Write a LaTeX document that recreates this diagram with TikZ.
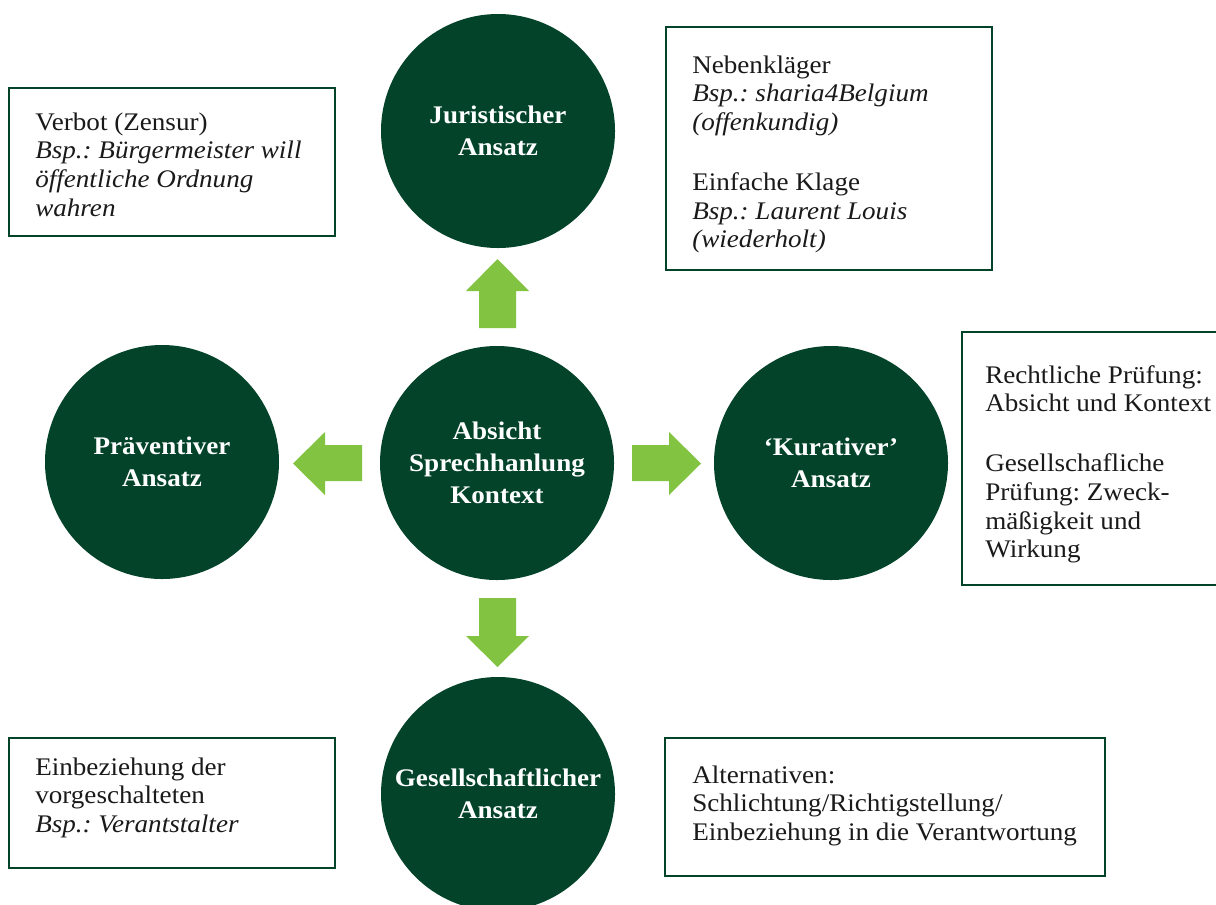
\documentclass[tikz,border=0pt]{standalone}
\usepackage{fontspec}
\setmainfont{Liberation Serif}[FakeStretch=1.07]
\definecolor{dkgreen}{HTML}{02432A}
\definecolor{ltgreen}{HTML}{82C341}
\definecolor{inkc}{HTML}{1A1A1A}
\newcommand{\lines}[1]{\begin{tabular}[t]{@{}l@{}}#1\end{tabular}}
\frenchspacing
\begin{document}
\begin{tikzpicture}[x=0.75pt,y=-0.75pt,
  circ/.style={circle, fill=dkgreen, minimum size=175.5pt, inner sep=0pt, text=white,
    font=\fontsize{19}{24}\selectfont\bfseries, align=center},
  frame/.style={draw=dkgreen, line width=1.6pt, fill=white, inner sep=0pt},
  txt/.style={anchor=base west, inner sep=0pt, text=inkc,
    font=\fontsize{19}{21.5}\selectfont},
  blockarrow/.style={fill=ltgreen}]
\useasboundingbox (0,0) rectangle (1216,904);
\fill[white] (0,0) rectangle (1216,904);

% frames
\node[frame, minimum width=244.5pt, minimum height=111pt] (b1) at (172,162) {};
\node[frame, minimum width=244.5pt, minimum height=182.25pt] (b2) at (829,148.5) {};
\node[frame, minimum width=195pt, minimum height=189.75pt] (b3) at (1092,458.5) {};
\node[frame, minimum width=244.5pt, minimum height=97.5pt] (b4) at (172,803) {};
\node[frame, minimum width=330pt, minimum height=103.5pt] (b5) at (885,807) {};

% frame texts
\node[txt] (t1) at (35,130) {\lines{Verbot (Zensur)\\ \textit{Bsp.: Bürgermeister will}\\ \textit{öffentliche Ordnung}\\ \textit{wahren}}};
\node[txt] (t2) at (692,73) {\lines{Nebenkläger\\ \textit{Bsp.: sharia4Belgium}\\ \textit{(offenkundig)}\\[23.5pt] Einfache Klage\\ \textit{Bsp.: Laurent Louis}\\ \textit{(wiederholt)}}};
\node[txt] (t3) at (985,383) {\lines{Rechtliche Prüfung:\\ Absicht und Kontext\\[23.5pt] Gesellschafliche\\ Prüfung: Zweck-\\ mäßigkeit und\\ Wirkung}};
\node[txt] (t4) at (35,775) {\lines{Einbeziehung der\\ vorgeschalteten\\ \textit{Bsp.: Verantstalter}}};
\node[txt] (t5) at (692,783) {\lines{Alternativen:\\ Schlichtung/Richtigstellung/\\ Einbeziehung in die Verantwortung}};

% circles
\node[circ] (top) at (498,131) {Juristischer\\Ansatz};
\node[circ] (mid) at (497,463) {Absicht\\Sprechhanlung\\Kontext};
\node[circ] (left) at (162,462) {Präventiver\\Ansatz};
\node[circ] (right) at (831,463) {‘Kurativer’\\Ansatz};
\node[circ] (bot) at (498,794) {Gesellschaftlicher\\Ansatz};

% block arrows
\fill[blockarrow] (479,328) -- (479,291) -- (466,291) -- (497.5,259) -- (529,291) -- (516,291) -- (516,328) -- cycle;
\fill[blockarrow] (479,598) -- (479,636) -- (466,636) -- (497.5,667) -- (529,636) -- (516,636) -- (516,598) -- cycle;
\fill[blockarrow] (362,445) -- (325,445) -- (325,432) -- (293,463.5) -- (325,495) -- (325,481) -- (362,481) -- cycle;
\fill[blockarrow] (632,445) -- (669,445) -- (669,432) -- (701,463.5) -- (669,495) -- (669,481) -- (632,481) -- cycle;
\end{tikzpicture}
\end{document}
